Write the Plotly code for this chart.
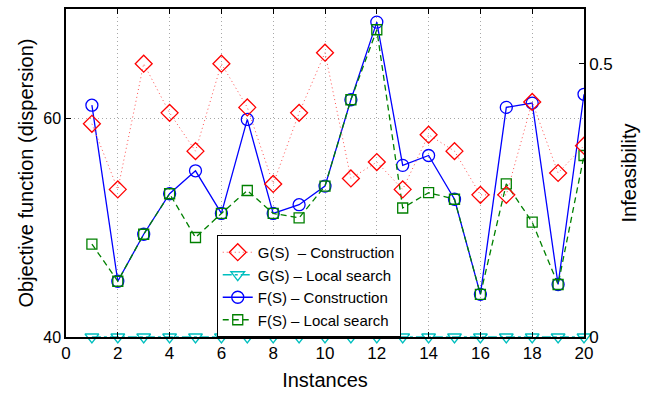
import plotly.graph_objects as go

# Instance indices
instances = list(range(1, 21))

# Infeasibility G(S) (right axis)
g_construction = [0.39, 0.27, 0.50, 0.41, 0.34, 0.50, 0.42, 0.28, 0.41, 0.52,
                  0.29, 0.32, 0.27, 0.37, 0.34, 0.26, 0.26, 0.43, 0.30, 0.35]
g_local_search = [0, 0, 0, 0, 0, 0, 0, 0, 0, 0,
                  0, 0, 0, 0, 0, 0, 0, 0, 0, 0]

# Objective function F(S) (left axis)
f_construction = [61.2, 45.1, 49.4, 53.1, 55.2, 51.3, 59.9, 51.3, 52.1, 53.8,
                  61.7, 68.8, 55.7, 56.6, 52.6, 43.9, 61.0, 61.4, 44.8, 62.2]
f_local_search = [48.5, 45.1, 49.4, 53.1, 49.1, 51.3, 53.4, 51.3, 50.9, 53.8,
                  61.7, 68.1, 51.8, 53.2, 52.6, 43.9, 54.0, 50.5, 44.8, 56.6]

FONT = "Liberation Sans, Arial, Helvetica, sans-serif"
GRID = dict(showgrid=True, gridcolor="#a8a8a8", griddash="1px,3px", gridwidth=1)

fig = go.Figure()

fig.add_trace(go.Scatter(
    x=instances, y=g_construction, yaxis="y2", mode="lines+markers",
    name="G(S)\u00a0 \u2013 Construction",
    line=dict(color="#FF5050", width=1, dash="1px,3px"),
    marker=dict(symbol="diamond-open", size=13, color="#FF0000", line=dict(width=1.3)),
))
fig.add_trace(go.Scatter(
    x=instances, y=g_local_search, yaxis="y2", mode="lines+markers",
    name="G(S) \u2013 Local search",
    line=dict(color="#00BFBF", width=1.3, dash="dashdot"),
    marker=dict(symbol="triangle-down-open", size=12, color="#00BFBF", line=dict(width=1.3)),
    cliponaxis=False,
))
fig.add_trace(go.Scatter(
    x=instances, y=f_construction, mode="lines+markers",
    name="F(S) \u2013 Construction",
    line=dict(color="#0000FF", width=1.3),
    marker=dict(symbol="circle-open", size=12, color="#0000FF", line=dict(width=1.3)),
))
fig.add_trace(go.Scatter(
    x=instances, y=f_local_search, mode="lines+markers",
    name="F(S) \u2013 Local search",
    line=dict(color="#008000", width=1.3, dash="6px,4px"),
    marker=dict(symbol="square-open", size=10, color="#008000", line=dict(width=1.3)),
))

fig.update_layout(
    width=646, height=395,
    margin=dict(l=66, r=62, t=7, b=58),
    paper_bgcolor="white", plot_bgcolor="white",
    font=dict(family=FONT, size=16, color="black"),
    showlegend=True,
    legend=dict(
        x=0.291, y=0.311, xanchor="left", yanchor="top",
        bgcolor="white", bordercolor="black", borderwidth=1,
        font=dict(size=15), tracegroupgap=0,
    ),
    xaxis=dict(
        range=[0, 20], dtick=2, tick0=0,
        ticks="inside", ticklen=5, tickcolor="black",
        showline=True, linecolor="black", linewidth=1.5, mirror="ticks",
        zeroline=False,
        title=dict(text="Instances", font=dict(size=20), standoff=11),
        tickfont=dict(size=17),
        **GRID,
    ),
    yaxis=dict(
        range=[40, 70], dtick=20, tick0=40,
        ticks="inside", ticklen=5, tickcolor="black",
        showline=True, linecolor="black", linewidth=1.5, mirror=True,
        zeroline=False,
        title=dict(text="Objective function (dispersion)", font=dict(size=20), standoff=4),
        tickfont=dict(size=16),
        **GRID,
    ),
    yaxis2=dict(
        range=[0, 0.6], dtick=0.5, tick0=0,
        overlaying="y", side="right",
        ticks="inside", ticklen=5, tickcolor="black",
        showline=True, linecolor="black", linewidth=1.5,
        showgrid=False, zeroline=False,
        title=dict(text="Infeasibility", font=dict(size=20), standoff=10),
        tickfont=dict(size=17),
    ),
)

fig.write_html("out.html")
